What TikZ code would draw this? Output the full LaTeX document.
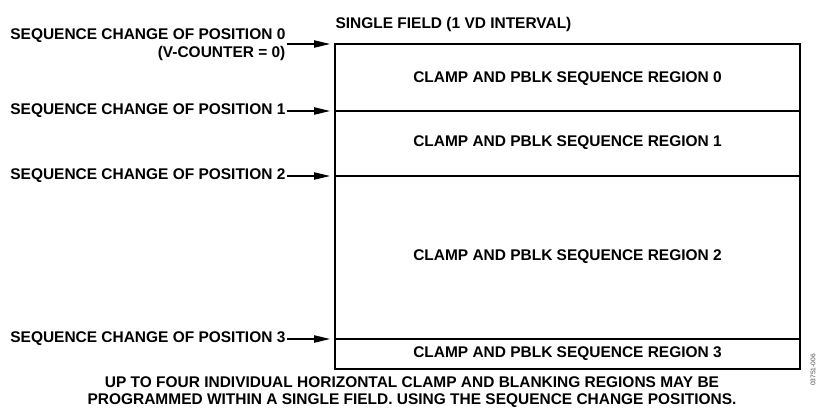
\documentclass[tikz,border=0pt]{standalone}
\usepackage{fontspec}
\setmainfont{Liberation Sans}
\usetikzlibrary{arrows.meta,positioning}
\begin{document}
\begin{tikzpicture}[x=0.75pt,y=-0.75pt,
    font=\bfseries\fontsize{11.6}{12}\selectfont,
    poslabel/.style={anchor=east,align=right,inner sep=1pt},
    regionlabel/.style={inner sep=1pt},
    seqarrow/.style={-{Triangle[length=12pt,width=5.5pt]},line width=0.9pt}]
  \useasboundingbox (0,0) rectangle (821,408);
  % field box and its regions
  \draw[line width=2.2pt] (335,44) rectangle (800,369);
  \foreach \y in {111,176,339}{
    \draw[line width=1.1pt] (335,\y) -- (800,\y);
    }
  \node[anchor=west,inner sep=1pt] (title) at (334,24) {SINGLE FIELD (1 VD INTERVAL)};
  \node[regionlabel] (reg0) at (567.5,79) {CLAMP AND PBLK SEQUENCE REGION 0};
  \node[regionlabel] (reg1) at (567.5,143) {CLAMP AND PBLK SEQUENCE REGION 1};
  \node[regionlabel] (reg2) at (567.5,257) {CLAMP AND PBLK SEQUENCE REGION 2};
  \node[regionlabel] (reg3) at (567.5,354) {CLAMP AND PBLK SEQUENCE REGION 3};
  % sequence change positions
  \node[poslabel,font=\bfseries\fontsize{11.6}{13.5}\selectfont] (pos0) at (287,45)
    {SEQUENCE CHANGE OF POSITION 0\\(V-COUNTER = 0)};
  \node[poslabel] (pos1) at (287,111) {SEQUENCE CHANGE OF POSITION 1};
  \node[poslabel] (pos2) at (287,176) {SEQUENCE CHANGE OF POSITION 2};
  \node[poslabel] (pos3) at (287,339) {SEQUENCE CHANGE OF POSITION 3};
  \coordinate (end0) at (330,44);
  \coordinate (end1) at (330,111);
  \coordinate (end2) at (330,176);
  \coordinate (end3) at (330,339);
  \draw[seqarrow] (pos0.east |- end0) -- (end0);
  \foreach \i in {1,2,3}{
    \draw[seqarrow] (pos\i.east) -- (end\i);
    }
  % note and figure code
  \node[inner sep=0pt,anchor=base] (note1) at (412,387.5)
    {UP TO FOUR INDIVIDUAL HORIZONTAL CLAMP AND BLANKING REGIONS MAY BE};
  \node[inner sep=0pt,anchor=base] (note2) at (412,404)
    {PROGRAMMED WITHIN A SINGLE FIELD. USING THE SEQUENCE CHANGE POSITIONS.};
  \node[rotate=90,font=\fontsize{5}{6}\selectfont,text=black!70] (code) at (813,370) {03751-006};
\end{tikzpicture}
\end{document}
